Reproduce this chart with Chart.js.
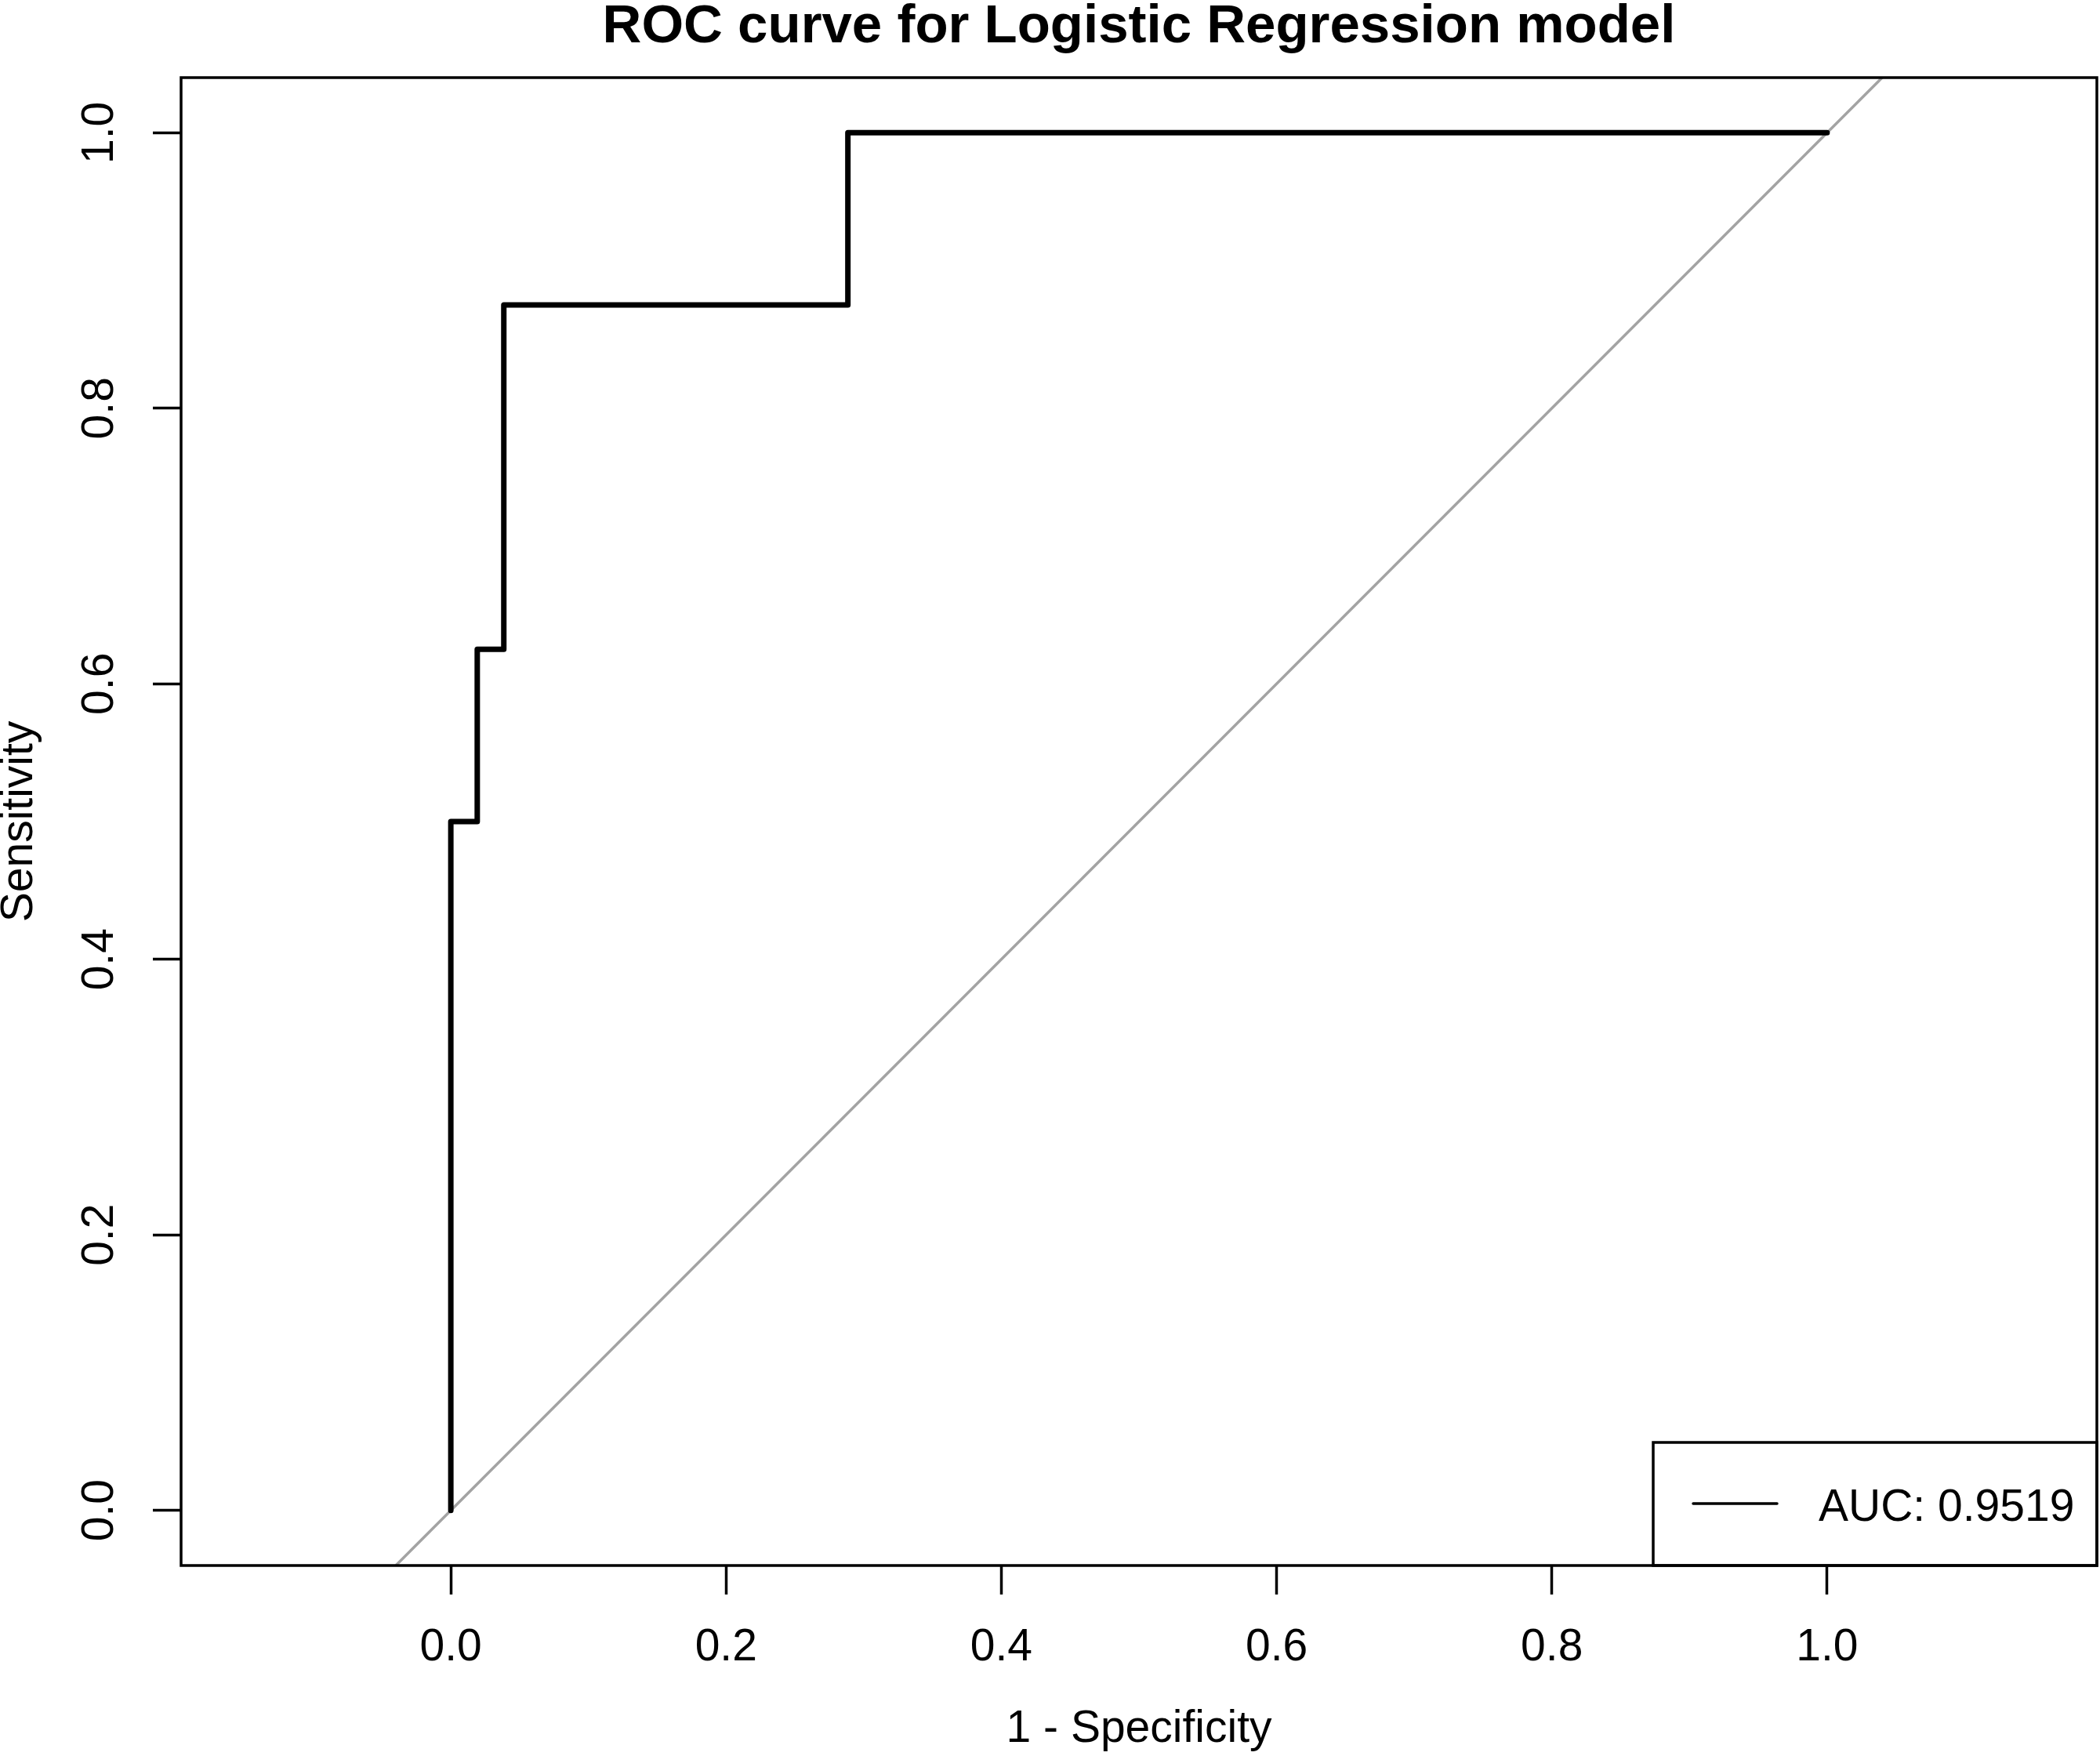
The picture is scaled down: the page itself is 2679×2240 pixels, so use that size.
<!DOCTYPE html>
<html>
<head>
<meta charset="utf-8">
<title>ROC curve for Logistic Regression model</title>
<script src="https://cdn.jsdelivr.net/npm/chart.js@4.4.1/dist/chart.umd.min.js"></script>
<style>
  html, body { margin: 0; padding: 0; background: #fff; }
  #wrap { width: 2679px; height: 2240px; }
</style>
</head>
<body>
<div id="wrap"><canvas id="rocChart" width="2679" height="2240"></canvas></div>
<script>
// ROC curve steps: 1 - specificity vs sensitivity
const falsePositiveRate = [0, 0, 0.0192, 0.0192, 0.0385, 0.0385, 0.2885, 0.2885, 1];
const truePositiveRate = [0, 0.5, 0.5, 0.625, 0.625, 0.875, 0.875, 1, 1];

// chance line (identity), runs corner to corner of the plot region
const diagonalX = [-0.04, 1.04];
const diagonalY = [-0.04, 1.04];

const xTicks = [0, 0.2, 0.4, 0.6, 0.8, 1.0];
const yTicks = [0, 0.2, 0.4, 0.6, 0.8, 1.0];

const aucLabel = "AUC: 0.9519";

const FONT = '"Liberation Sans", Arial, Helvetica, sans-serif';
Chart.defaults.font.family = FONT;
Chart.defaults.color = '#000';

function toPoints(xs, ys) {
    return xs.map((x, i) => ({ x: x, y: ys[i] }));
}

// box around the plot area plus the bottom-right legend, drawn like base R
const frameAndLegend = {
    id: 'frameAndLegend',
    afterDatasetsDraw(chart) {
        const { ctx, chartArea: a } = chart;
        ctx.save();
        ctx.strokeStyle = '#000';
        ctx.lineWidth = 3.5;
        ctx.strokeRect(a.left, a.top, a.right - a.left, a.bottom - a.top);

        const w = 566, h = 157;
        const lx = a.right - w, ly = a.bottom - h;
        ctx.strokeRect(lx, ly, w, h);

        ctx.lineCap = 'round';
        ctx.beginPath();
        ctx.moveTo(lx + 51, ly + 78);
        ctx.lineTo(lx + 158, ly + 78);
        ctx.stroke();

        ctx.fillStyle = '#000';
        ctx.font = '57px ' + FONT;
        ctx.textAlign = 'left';
        ctx.textBaseline = 'alphabetic';
        ctx.fillText(chart.data.datasets[0].label, lx + 211, ly + 100);
        ctx.restore();
    }
};

const ctx = document.getElementById('rocChart').getContext('2d');

new Chart(ctx, {
    type: 'scatter',
    data: {
        datasets: [
            {
                label: aucLabel,
                data: toPoints(falsePositiveRate, truePositiveRate),
                showLine: true,
                borderColor: '#000',
                borderWidth: 7,
                borderCapStyle: 'round',
                borderJoinStyle: 'round',
                pointRadius: 0,
                tension: 0,
                order: 1
            },
            {
                label: 'identity',
                data: toPoints(diagonalX, diagonalY),
                showLine: true,
                borderColor: '#a3a3a3',
                borderWidth: 3.5,
                pointRadius: 0,
                order: 2
            }
        ]
    },
    options: {
        responsive: false,
        devicePixelRatio: 1,
        animation: false,
        layout: {
            padding: { top: 0, left: 0, right: 4, bottom: 0 }
        },
        plugins: {
            legend: { display: false },
            tooltip: { enabled: false },
            title: {
                display: true,
                text: 'ROC curve for Logistic Regression model',
                fullSize: false,
                color: '#000',
                font: { size: 69, weight: 'bold', lineHeight: 0.8 },
                padding: { top: 7, bottom: 36.8 }
            }
        },
        scales: {
            x: {
                type: 'linear',
                min: -0.196,
                max: 1.196,
                afterBuildTicks: scale => { scale.ticks = xTicks.map(v => ({ value: v })); },
                afterFit: scale => { scale.height = 243; },
                border: { display: false },
                grid: {
                    display: true,
                    drawOnChartArea: false,
                    drawTicks: true,
                    tickLength: 37,
                    tickWidth: 3.5,
                    tickColor: '#000'
                },
                ticks: {
                    autoSkip: false,
                    maxRotation: 0,
                    padding: 34,
                    font: { size: 57 },
                    callback: v => v.toFixed(1)
                },
                title: {
                    display: true,
                    text: '1 - Specificity',
                    font: { size: 57 },
                    padding: { top: 0, bottom: 0 }
                }
            },
            y: {
                type: 'linear',
                min: -0.04,
                max: 1.04,
                afterBuildTicks: scale => { scale.ticks = yTicks.map(v => ({ value: v })); },
                afterFit: scale => { scale.width = 231; },
                border: { display: false },
                grid: {
                    display: true,
                    drawOnChartArea: false,
                    drawTicks: true,
                    tickLength: 36,
                    tickWidth: 3.5,
                    tickColor: '#000'
                },
                ticks: {
                    autoSkip: false,
                    minRotation: 90,
                    maxRotation: 90,
                    crossAlign: 'center',
                    padding: 27,
                    font: { size: 57 },
                    callback: v => v.toFixed(1)
                },
                title: {
                    display: true,
                    text: 'Sensitivity',
                    font: { size: 57, lineHeight: 0.9 },
                    padding: { top: 0, bottom: 0 }
                }
            }
        }
    },
    plugins: [frameAndLegend]
});
</script>
</body>
</html>
